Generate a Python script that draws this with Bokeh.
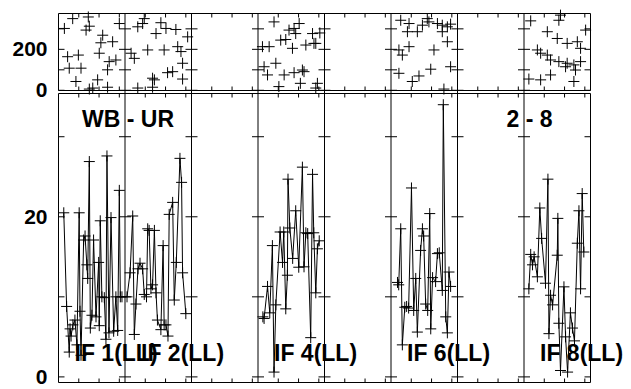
from bokeh.plotting import figure
from bokeh.models import Range1d, LinearAxis, FixedTicker, Label
from bokeh.embed import file_html
from bokeh.resources import INLINE

# ---------------- data ----------------
N_SLOTS = 8            # IF columns
SLOT_HOURS = 3.28      # time span of one column (hours)
IF_SLOTS = [0, 1, 3, 5, 7]
IF_LABELS = ["IF 1(LL)", "IF 2(LL)", "IF 4(LL)", "IF 6(LL)", "IF 8(LL)"]
SOURCE_LABEL = "WB - UR"
BASELINE_LABEL = "2 - 8"

AMP_TICKS = [0, 10, 20, 30]
AMP_LABELED = [0, 20]
PHASE_TICKS = [0, 100, 200, 300]
PHASE_LABELED = [0, 200]

# amplitude (lower panel): time within column (h), amplitude
amp_t_if1 = [0.26, 0.40, 0.53, 0.57, 0.62, 0.71, 0.81, 0.91, 1.02, 1.06, 1.11, 1.24, 1.31, 1.40, 1.44, 1.52,
             1.57, 1.65, 1.73, 1.85, 1.98, 2.01, 2.06, 2.14, 2.26, 2.34, 2.39, 2.49, 2.59, 2.72, 2.83, 2.92,
             3.00, 3.05, 3.13]
amp_if1 = [20.5, 8.8, 3.1, 6.0, 5.1, 6.5, 7.1, 4.0, 20.5, 8.2, 2.7, 17.1, 17.6, 14.0, 12.3, 26.9,
           6.1, 7.7, 17.1, 7.5, 14.3, 6.4, 19.5, 10.0, 9.9, 4.7, 27.6, 5.5, 19.9, 5.7, 10.0, 5.8,
           23.3, 10.0, 10.0]
amp_t_if2 = [0.10, 0.25, 0.38, 0.46, 0.54, 0.64, 0.74, 0.87, 0.95, 1.06, 1.12, 1.19, 1.28, 1.36, 1.45, 1.53,
             1.60, 1.77, 1.88, 1.93, 2.02, 2.12, 2.18, 2.35, 2.43, 2.53, 2.71, 2.79, 2.84, 3.00]
amp_if2 = [10.0, 13.0, 20.1, 5.3, 9.1, 13.5, 14.2, 13.5, 10.3, 10.0, 18.5, 18.3, 11.0, 11.5, 18.3, 10.5,
           7.1, 5.9, 16.4, 6.5, 6.5, 5.1, 20.3, 21.8, 9.6, 14.3, 27.3, 24.3, 13.0, 7.9]
amp_t_if4 = [0.24, 0.30, 0.47, 0.58, 0.71, 0.79, 0.88, 1.09, 1.21, 1.27, 1.37, 1.45, 1.48, 1.57, 1.71, 1.86,
             2.01, 2.19, 2.27, 2.36, 2.45, 2.60, 2.69, 2.75, 2.85, 2.93, 3.02]
amp_if4 = [7.5, 7.3, 11.3, 8.0, 16.4, 0.6, 9.0, 18.1, 14.3, 18.1, 8.5, 12.7, 24.7, 18.6, 14.8, 20.75,
           13.7, 26.2, 13.75, 18.0, 17.9, 4.9, 25.3, 18.0, 10.5, 16.0, 17.0]
amp_t_if6 = [0.32, 0.38, 0.48, 0.56, 0.68, 0.77, 0.87, 1.01, 1.12, 1.22, 1.30, 1.46, 1.55, 1.61, 1.71, 1.81,
             1.91, 1.96, 2.05, 2.20, 2.29, 2.38, 2.53, 2.58, 2.70, 2.78, 2.86, 2.94]
amp_if6 = [11.8, 11.5, 18.5, 4.0, 8.7, 8.8, 8.6, 23.6, 8.3, 12.3, 5.6, 15.8, 18.5, 17.6, 9.1, 8.3,
           20.4, 6.0, 12.4, 11.9, 15.4, 15.5, 10.8, 34.0, 7.5, 5.5, 13.1, 11.3]
amp_t_if8 = [0.24, 0.33, 0.42, 0.50, 0.66, 0.78, 0.87, 1.06, 1.18, 1.23, 1.31, 1.41, 1.64, 1.67, 1.72, 1.80,
             1.97, 2.05, 2.15, 2.29, 2.39, 2.49, 2.63, 2.71, 2.79, 2.87, 2.95]
amp_if8 = [11.0, 15.3, 14.0, 15.0, 12.5, 21.1, 17.3, 11.7, 24.7, 5.4, 10.2, 9.0, 15.2, 19.8, 6.7, 0.8,
           11.25, 5.0, 0.6, 8.0, 6.1, 4.5, 16.7, 20.75, 11.0, 22.9, 15.6]

# phase (upper panel): time within column (h), phase (deg)
ph_t_if1 = [0.29, 0.70, 1.47, 1.36, 1.52, 2.18, 2.09, 2.67, 3.00, 0.45, 0.98, 0.53, 1.11, 2.01, 2.50, 2.83,
            2.42, 0.86, 1.93, 1.69, 2.42, 1.52]
ph_if1 = [302, 350, 358, 294, 313, 269, 232, 237, 326, 164, 172, 108, 108, 181, 140, 148,
          100, 43, 51, 11, 15, 6]
ph_t_if2 = [0.63, 0.95, 0.87, 1.77, 2.02, 1.53, 2.51, 3.09, 0.30, 0.46, 1.12, 1.93, 2.60, 2.76, 2.84, 2.35,
            2.10, 1.36, 1.45, 2.84, 0.63, 1.36]
ph_if2 = [310, 350, 326, 330, 302, 277, 297, 261, 181, 156, 197, 197, 213, 189, 132, 91,
          86, 59, 51, 55, 11, 15]
ph_t_if4 = [0.79, 1.53, 1.78, 2.03, 1.86, 1.12, 1.37, 0.55, 0.22, 1.70, 2.36, 2.69, 2.76, 0.30, 0.47, 0.88,
            1.29, 1.78, 2.19, 2.27, 1.03, 2.09, 2.85, 2.85, 2.93, 3.05]
ph_if4 = [334, 294, 302, 326, 277, 245, 248, 213, 213, 205, 221, 277, 229, 115, 75, 132,
          75, 86, 99, 91, 18, 34, 11, 229, 34, 280]
ph_t_if6 = [0.48, 0.89, 0.81, 1.30, 1.55, 1.79, 1.87, 2.29, 2.53, 2.78, 2.94, 2.53, 2.78, 2.12, 0.39, 0.56,
            0.89, 0.39, 1.38, 1.96, 2.94, 1.05, 2.61]
ph_if6 = [342, 326, 286, 286, 318, 350, 334, 326, 318, 310, 323, 286, 237, 197, 197, 172,
          213, 83, 70, 103, 115, 43, 6]
ph_t_if8 = [0.33, 1.80, 1.72, 1.15, 1.64, 2.13, 2.63, 3.04, 2.79, 0.66, 0.82, 1.15, 1.31, 1.72, 2.13, 2.46,
            2.79, 2.05, 2.54, 1.31, 0.82, 0.24, 2.46]
ph_if8 = [339, 367, 342, 286, 253, 229, 237, 294, 205, 197, 181, 172, 148, 140, 132, 124,
          140, 115, 99, 75, 51, 55, 43]

AMP_T = [amp_t_if1, amp_t_if2, amp_t_if4, amp_t_if6, amp_t_if8]
AMP = [amp_if1, amp_if2, amp_if4, amp_if6, amp_if8]
PH_T = [ph_t_if1, ph_t_if2, ph_t_if4, ph_t_if6, ph_t_if8]
PH = [ph_if1, ph_if2, ph_if4, ph_if6, ph_if8]

# ---------------- layout ----------------
CANVAS_W, CANVAS_H = 625, 388
PANEL_L, PANEL_R = 58, 590          # panel box, canvas px
PANEL_T, PANEL_B = 13, 382
TOP_PX, GAP_PX = 77, 3
BOT_PX = (PANEL_B - PANEL_T) - TOP_PX - GAP_PX
AMP_LO, AMP_HI = -0.7, 35.4
PH_LO, PH_HI = -1.0, 375.0

X_MAX = N_SLOTS * SLOT_HOURS
x_px = (PANEL_R - PANEL_L) / X_MAX
amp_px = BOT_PX / (AMP_HI - AMP_LO)
ph_px = TOP_PX / (PH_HI - PH_LO)

x_lo = -PANEL_L / x_px
x_hi = X_MAX + (CANVAS_W - PANEL_R) / x_px
amp_r_lo = AMP_LO - (CANVAS_H - PANEL_B) / amp_px
amp_r_hi = AMP_LO + PANEL_B / amp_px
ph_r_hi = PH_HI + PANEL_T / ph_px
ph_r_lo = ph_r_hi - CANVAS_H / ph_px

FONT = "Liberation Sans"

p = figure(frame_width=CANVAS_W, frame_height=CANVAS_H,
           min_border_left=0, min_border_right=0, min_border_top=0, min_border_bottom=0,
           x_range=Range1d(x_lo, x_hi), y_range=Range1d(amp_r_lo, amp_r_hi),
           x_axis_location=None, y_axis_location=None,
           toolbar_location=None, output_backend="svg", title=None)
p.extra_y_ranges = {"phase": Range1d(ph_r_lo, ph_r_hi)}
p.xgrid.visible = False
p.ygrid.visible = False
p.outline_line_color = None
p.background_fill_color = "white"
p.border_fill_color = "white"

# y axes (labels only) at the left panel edge
for rng, ticks in ((None, AMP_LABELED), ("phase", PHASE_LABELED)):
    kw = {} if rng is None else {"y_range_name": rng}
    ax = LinearAxis(ticker=FixedTicker(ticks=ticks), fixed_location=0, **kw)
    ax.axis_line_color = None
    ax.major_tick_line_color = None
    ax.minor_tick_line_color = None
    ax.major_tick_in = 0
    ax.major_tick_out = 0
    ax.major_label_standoff = 11
    ax.major_label_text_font = FONT
    ax.major_label_text_font_style = "bold"
    ax.major_label_text_font_size = "21px"
    ax.major_label_text_color = "black"
    p.add_layout(ax, "left")

# panel boxes
p.quad(left=[0], right=[X_MAX], bottom=[AMP_LO], top=[AMP_HI], fill_color=None,
       line_color="black", line_width=1)
p.quad(left=[0], right=[X_MAX], bottom=[PH_LO], top=[PH_HI], fill_color=None,
       line_color="black", line_width=1, y_range_name="phase")

# column dividers
xd = [k * SLOT_HOURS for k in range(1, N_SLOTS)]
p.segment(x0=xd, x1=xd, y0=[AMP_LO] * len(xd), y1=[AMP_HI + GAP_PX / amp_px] * len(xd),
          line_color="black", line_width=1)
p.segment(x0=xd, x1=xd, y0=[PH_LO] * len(xd), y1=[PH_HI] * len(xd),
          line_color="black", line_width=1, y_range_name="phase")

# y ticks at every column edge
half = 6 / x_px
for rng, ticks in ((None, AMP_TICKS), ("phase", PHASE_TICKS)):
    x0, x1, ys = [], [], []
    for k in range(N_SLOTS + 1):
        for v in ticks:
            x0.append(max(0, k * SLOT_HOURS - half))
            x1.append(min(X_MAX, k * SLOT_HOURS + half))
            ys.append(v)
    kw = {} if rng is None else {"y_range_name": rng}
    p.segment(x0=x0, x1=x1, y0=ys, y1=ys, line_color="black", line_width=1, **kw)

# x ticks (hours) on each panel edge
xt = [k * SLOT_HOURS + h for k in range(N_SLOTS) for h in (1, 2, 3)]
tl = 4
n = len(xt)
p.segment(x0=xt, x1=xt, y0=[AMP_LO] * n, y1=[AMP_LO + tl / amp_px] * n, line_color="black")
p.segment(x0=xt, x1=xt, y0=[AMP_HI] * n, y1=[AMP_HI - tl / amp_px] * n, line_color="black")
p.segment(x0=xt, x1=xt, y0=[PH_LO] * n, y1=[PH_LO + tl / ph_px] * n, line_color="black",
          y_range_name="phase")
p.segment(x0=xt, x1=xt, y0=[PH_HI] * n, y1=[PH_HI - tl / ph_px] * n, line_color="black",
          y_range_name="phase")

# data
for slot, ts, vals, pts, pvals in zip(IF_SLOTS, AMP_T, AMP, PH_T, PH):
    xs = [slot * SLOT_HOURS + t for t in ts]
    p.line(xs, vals, line_color="black", line_width=1)
    p.scatter(xs, vals, marker="cross", size=11, line_color="black", line_width=1)
    pxs = [slot * SLOT_HOURS + t for t in pts]
    p.scatter(pxs, pvals, marker="cross", size=11, line_color="black", line_width=1, y_range_name="phase")

# labels
lab_kw = dict(text_font=FONT, text_font_style="bold", text_font_size="23px", text_color="black",
              text_baseline="middle")
for slot, lab in zip(IF_SLOTS, IF_LABELS):
    p.add_layout(Label(x=slot * SLOT_HOURS + 0.79, y=2.96, text=lab, text_align="left", **lab_kw))
p.add_layout(Label(x=1.16, y=32.25, text=SOURCE_LABEL, text_align="left", **lab_kw))
p.add_layout(Label(x=24.37, y=32.25, text=BASELINE_LABEL, text_align="right", **lab_kw))

open("out.html", "w").write(file_html(p, INLINE))
